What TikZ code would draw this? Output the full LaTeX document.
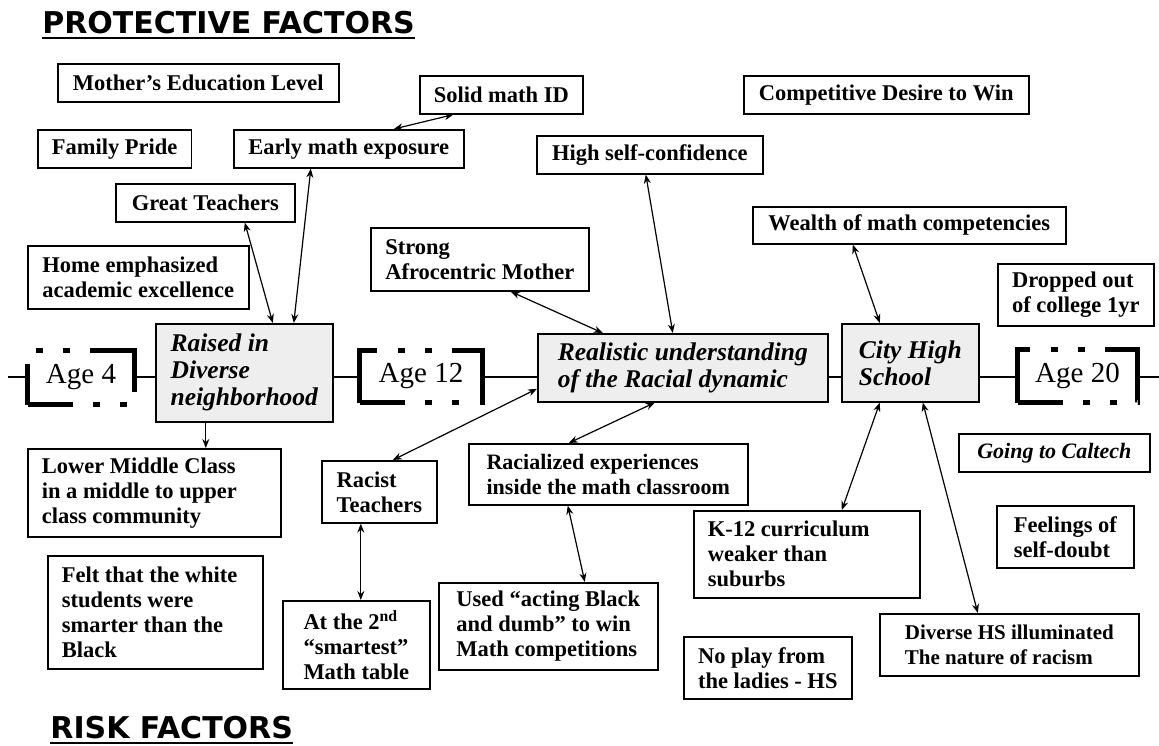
\documentclass[tikz,border=0pt]{standalone}
\usepackage{fontspec}
\setmainfont{Liberation Serif}
\newfontfamily\headfont{DejaVu Sans}
\usetikzlibrary{positioning, arrows.meta}

\begin{document}
\begin{tikzpicture}[
  x=0.5pt, y=-0.5pt,
  factor/.style={draw, fill=white, anchor=north west, align=flush left,
                 inner xsep=7pt, inner ysep=1pt, line width=0.8pt,
                 font=\fontsize{11.25}{12.5}\selectfont\bfseries},
  single/.style={factor, align=center},
  stage/.style={factor, fill=gray!13,
                font=\fontsize{12.75}{13.5}\selectfont\bfseries\itshape},
  agebox/.style={draw, fill=white, anchor=north west, inner sep=0pt,
                 line width=2.5pt,
                 dash pattern=on 43pt off 10pt on 3.5pt off 10pt on 3.5pt off 10.5pt,
                 dash phase=20.5pt, font=\fontsize{14.5}{16}\selectfont},
  heading/.style={anchor=base west, inner sep=0pt,
                  font=\headfont\bfseries\fontsize{15}{18}\selectfont},
  link/.style={{Stealth[length=4.5pt,width=3.5pt]}-{Stealth[length=4.5pt,width=3.5pt]},
               line width=0.6pt},
  oneway/.style={-{Stealth[length=4.5pt,width=3.5pt]}, line width=0.6pt},
  timeline/.style={line width=0.7pt}
]
\useasboundingbox (0,0) rectangle (1159,745);

\node[heading] (protect) at (42,33) {PROTECTIVE FACTORS};
\node[heading] (risk) at (50,738) {RISK FACTORS};
\draw[line width=1pt] ([yshift=-2.5pt]protect.base west) -- ([yshift=-2.5pt]protect.base east);
\draw[line width=1pt] ([yshift=-2.5pt]risk.base west) -- ([yshift=-2.5pt]risk.base east);

\node[single, minimum width=140.5pt, minimum height=19pt] (mother) at (57,63) {Mother’s Education Level};
\node[single, minimum width=81.5pt, minimum height=19pt] (solid) at (419,75) {Solid math ID};
\node[single, minimum width=142.5pt, minimum height=19pt] (compete) at (743,75) {Competitive Desire to Win};
\node[single, minimum width=76.5pt, minimum height=19pt] (pride) at (37,129) {Family Pride};
\node[single, minimum width=115pt, minimum height=19pt] (early) at (233,129) {Early math exposure};
\node[single, minimum width=113pt, minimum height=19pt] (confid) at (536,135) {High self-confidence};
\node[single, minimum width=89.5pt, minimum height=19pt] (great) at (115,183) {Great Teachers};
\node[single, minimum width=156.5pt, minimum height=18.5pt] (wealth) at (752,206) {Wealth of math competencies};
\node[factor, minimum width=109pt, minimum height=31.5pt] (afro) at (370,227) {Strong\\Afrocentric Mother};
\node[factor, minimum width=110.5pt, minimum height=31.5pt] (home) at (27,245) {Home emphasized\\academic excellence};
\node[factor, minimum width=78pt, minimum height=31pt] (dropped) at (997,263) {Dropped out\\of college 1yr};

\node[stage, minimum width=88.5pt, minimum height=49pt] (raised) at (155,323) {Raised in\\Diverse\\neighborhood};
\node[stage, minimum width=145pt, minimum height=34pt] (realistic) at (537,333) {Realistic understanding\\of the Racial dynamic};
\node[stage, minimum width=68.5pt, minimum height=39pt] (city) at (841,323) {City High\\School};

\node[agebox, minimum width=53.5pt, minimum height=27pt] (age4) at (25,348) {Age 4};
\node[agebox, minimum width=61.5pt, minimum height=26pt] (age12) at (357,348) {Age 12};
\node[agebox, minimum width=60pt, minimum height=26.5pt] (age20) at (1015,347) {Age 20};

\node[factor, text width=112.5pt, minimum height=44pt] (lowmid) at (27,448) {Lower Middle Class\\in a middle to upper\\class community};
\node[factor, minimum width=57.5pt, minimum height=31pt] (racist) at (321,460) {Racist\\Teachers};
\node[factor, minimum width=139.5pt, minimum height=30.5pt, font=\fontsize{11}{12.5}\selectfont\bfseries] (racial) at (468,443) {Racialized experiences\\inside the math classroom};
\node[single, minimum width=95.5pt, minimum height=19pt, font=\fontsize{11}{12.5}\selectfont\bfseries\itshape] (caltech) at (958,433) {Going to Caltech};
\node[factor, text width=99pt, minimum height=43.5pt] (k12) at (693,510) {K-12 curriculum\\weaker than\\suburbs};
\node[factor, minimum width=68.5pt, minimum height=31pt] (doubt) at (996,505) {Feelings of\\self-doubt};
\node[factor, text width=93.5pt, minimum height=56.5pt] (felt) at (47,555) {Felt that the white\\students were\\smarter than the\\Black};
\node[factor, minimum width=73.5pt, minimum height=44pt] (table) at (282,600) {At the 2\textsuperscript{nd}\\“smartest”\\Math table};
\node[factor, minimum width=109.5pt, minimum height=43.5pt] (used) at (438,582) {Used “acting Black\\and dumb” to win\\Math competitions};
\node[factor, minimum width=84pt, minimum height=31pt] (noplay) at (683,636) {No play from\\the ladies - HS};
\node[factor, minimum width=129.5pt, minimum height=31pt, font=\fontsize{10.5}{12.5}\selectfont\bfseries] (diverse) at (879,613) {Diverse HS illuminated\\The nature of racism};

\coordinate (tlw) at (8,377);
\coordinate (tle) at (1159,377);
\draw[timeline] (tlw) -- (age4.west |- tlw);
\foreach \a/\b in {age4/raised, raised/age12, age12/realistic, realistic/city, city/age20}
  \draw[timeline] (\a.east |- tlw) -- (\b.west |- tlw);
\draw[timeline] (age20.east |- tle) -- (tle);

\draw[link] ([xshift=-24pt]solid.south) -- ([xshift=22.5pt]early.north);
\draw[link] ([xshift=-19pt]early.south) -- ([xshift=24.75pt]raised.north);
\draw[link] ([xshift=19.75pt]great.south) -- ([xshift=14.25pt]raised.north);
\draw[link] ([xshift=-2pt]confid.south) -- ([xshift=-5pt]realistic.north);
\draw[link] ([xshift=15.5pt]afro.south) -- ([xshift=-40pt]realistic.north);
\draw[link] ([xshift=-28.25pt]wealth.south) -- ([xshift=-15.25pt]city.north);
\draw[oneway] ([xshift=-19.25pt]raised.south) -- ([xshift=25.75pt]lowmid.north);
\draw[link] ([yshift=-10.5pt]realistic.west) -- ([xshift=6.75pt]racist.north);
\draw[link] ([xshift=-14pt]realistic.south) -- ([xshift=-19.75pt]racial.north);
\draw[link] ([xshift=-20.25pt]racial.south) -- ([xshift=18.25pt]used.north);
\draw[link] ([xshift=-9.25pt]racist.south) -- ([xshift=2.25pt]table.north);
\draw[link] ([xshift=-15.25pt]city.south) -- ([xshift=17.5pt]k12.north);
\draw[link] ([xshift=6.25pt]city.south) -- ([xshift=-15.75pt]diverse.north);
\end{tikzpicture}
\end{document}
